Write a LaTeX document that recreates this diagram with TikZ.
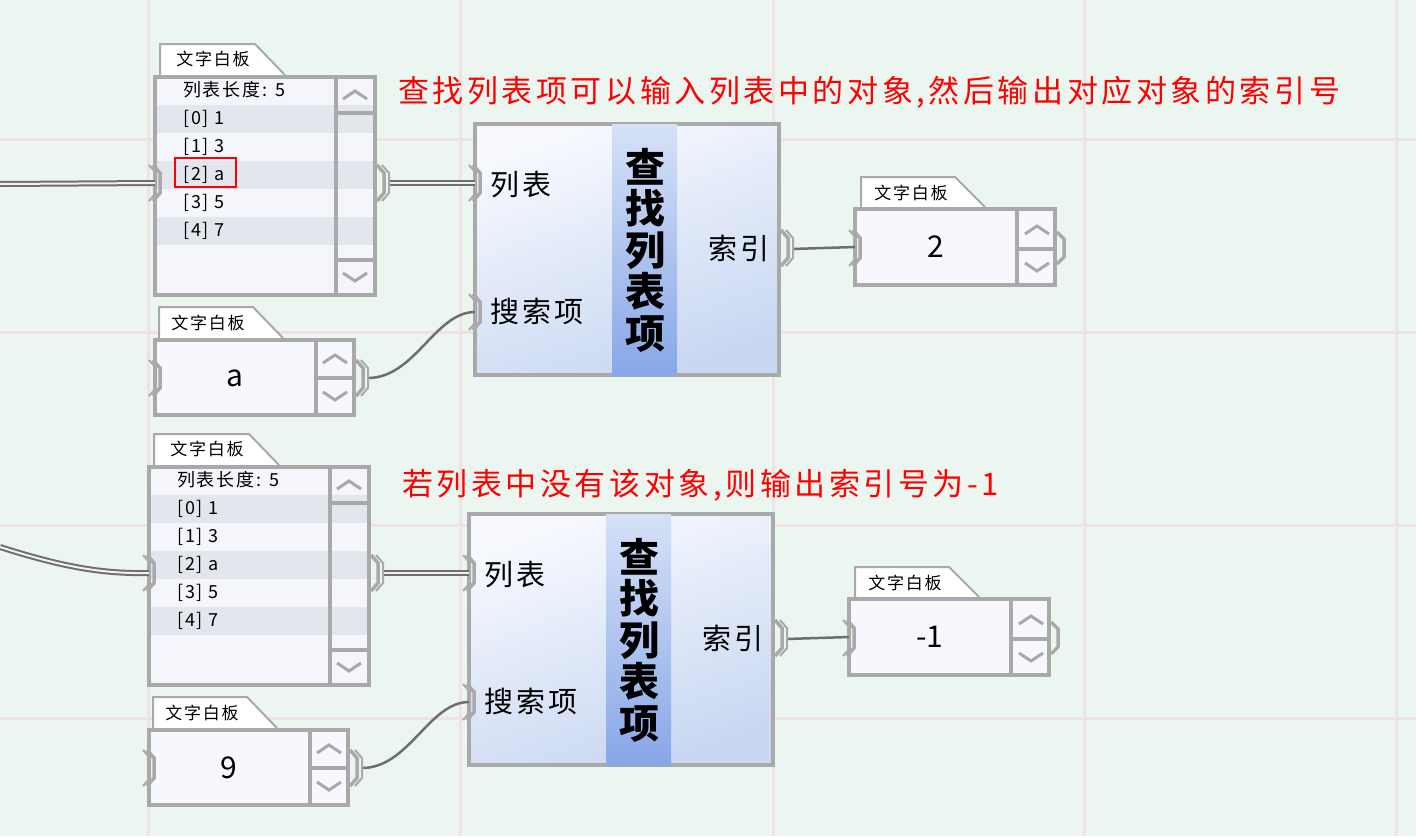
\documentclass[tikz,border=0pt]{standalone}
\usepackage{fontspec}
\newfontfamily\cjk{Noto Sans CJK SC}
\newfontfamily\cjksp{Noto Sans CJK SC}[LetterSpace=10]
\newfontfamily\cjknote{Noto Sans CJK SC}[LetterSpace=11.5]
\definecolor{bgc}{HTML}{EBF6F1}
\definecolor{gridc}{HTML}{EFE2E4}
\definecolor{framec}{HTML}{A9A9A9}
\definecolor{wirec}{HTML}{6E6E6E}
\definecolor{rowdark}{HTML}{E3E6EC}
\definecolor{rowlight}{HTML}{F5F6FB}
\definecolor{boxfill}{HTML}{F6F8FD}
\definecolor{blktop}{HTML}{F7F9FE}
\definecolor{blkbot}{HTML}{C8D7F2}
\definecolor{coltop}{HTML}{D6E1F7}
\definecolor{colbot}{HTML}{88A7E8}
\definecolor{redc}{HTML}{FF0000}
\tikzset{
  panel/.style={draw=framec, line width=4pt, inner sep=0pt, outer sep=0pt},
  tabshape/.style={draw=framec, line width=2pt, fill=white},
  sbline/.style={draw=framec, line width=4pt},
  chev/.style={draw=framec, line width=3pt},
  portthick/.style={draw=framec, line width=3.5pt},
  portthin/.style={draw=framec, line width=2pt},
  wire/.style={draw=wirec, line width=2.5pt},
  listwire/.style={draw=wirec, line width=2pt, double=white!88!gray, double distance=2pt},
  smalltxt/.style={inner sep=0pt, font=\cjksp\fontsize{17}{20}\selectfont},
  listtxt/.style={inner sep=0pt, anchor=west, font=\cjksp\fontsize{18}{20}\selectfont},
  lbl/.style={inner sep=0pt, font=\cjksp\fontsize{29}{32}\selectfont},
  valtxt/.style={inner sep=0pt, font=\cjk\fontsize{30}{32}\selectfont},
  titletxt/.style={inner sep=0pt, align=center, font=\cjk\bfseries\fontsize{40}{41.5}\selectfont},
  notetxt/.style={inner sep=0pt, anchor=west, text=redc, font=\cjknote\fontsize{31}{34}\selectfont},
}
% input port on a left border, bulging inward, thin bracket outside
\newcommand{\inport}[2]{%
  \draw[portthick] (#1,#2-18) -- (#1+7,#2-10) -- (#1+7,#2+10) -- (#1,#2+18);
  \draw[portthin] (#1-4,#2-18) -- (#1+3,#2-10) -- (#1+3,#2+10) -- (#1-4,#2+18);}
% output port on a right border, bulging outward, thin bracket outside
\newcommand{\outport}[2]{%
  \draw[portthick] (#1,#2-18) -- (#1+7,#2-10) -- (#1+7,#2+10) -- (#1,#2+18);
  \draw[portthin] (#1+5,#2-18) -- (#1+12,#2-10) -- (#1+12,#2+10) -- (#1+5,#2+18);}
\newcommand{\oneport}[2]{\draw[portthick] (#1,#2-16) -- (#1+7,#2-9) -- (#1+7,#2+9) -- (#1,#2+16);}
\newcommand{\chevup}[2]{\draw[chev] (#1-12,#2+4) -- (#1,#2-4) -- (#1+12,#2+4);}
\newcommand{\chevdown}[2]{\draw[chev] (#1-12,#2-4) -- (#1,#2+4) -- (#1+12,#2-4);}
\newcommand{\findgroup}[3]{%
  % ---- list panel
  \draw[tabshape] (160,75) -- (160,44) -- (255,44) -- (285,75);
  \node[smalltxt] (#1ltab) at (213,59) {文字白板};
  \node[panel, fill=rowlight, minimum width=220pt, minimum height=218pt] (#1list) at (265,186) {};
  \fill[rowdark] (157,105) rectangle (373,133);
  \fill[rowdark] (157,161) rectangle (373,189);
  \fill[rowdark] (157,217) rectangle (373,245);
  \draw[sbline] (336,77) -- (336,295);
  \draw[sbline] (336,113) -- (375,113);
  \draw[sbline] (336,260) -- (375,260);
  \chevup{355}{95}
  \chevdown{355}{277}
  \node[listtxt] (#1lhead) at (183,90) {列表长度: 5};
  \node[listtxt] (#1lr0) at (183,119) {[0] 1};
  \node[listtxt] (#1lr1) at (183,147) {[1] 3};
  \node[listtxt] (#1lr2) at (183,175) {[2] a};
  \node[listtxt] (#1lr3) at (183,203) {[3] 5};
  \node[listtxt] (#1lr4) at (183,231) {[4] 7};
  \coordinate (#1listin) at (155,183);
  \coordinate (#1listout) at (389,183);
  % ---- block
  \node[panel, top color=blktop, bottom color=blkbot, shading angle=20, minimum width=304pt, minimum height=251pt] (#1blk) at (627,249.5) {};
  \shade[top color=coltop, bottom color=colbot] (612,124) rectangle (677,375);
  \node[titletxt] (#1title) at (645,250) {查\\找\\列\\表\\项};
  \node[lbl, anchor=west] (#1lin1) at (490,185) {列表};
  \node[lbl, anchor=west] (#1lin2) at (490,311) {搜索项};
  \node[lbl, anchor=east] (#1lout) at (770,248) {索引};
  \coordinate (#1bin1) at (475,183);
  \coordinate (#1bin2) at (475,312);
  \coordinate (#1bout) at (792,249);
  % ---- output box
  \draw[tabshape] (861,207) -- (861,177) -- (955,177) -- (985,207);
  \node[smalltxt] (#1otab) at (911,193) {文字白板};
  \node[panel, fill=boxfill, minimum width=200pt, minimum height=76pt] (#1obox) at (955,247) {};
  \draw[sbline] (1017,209) -- (1017,285);
  \draw[sbline] (1017,249) -- (1055,249);
  \chevup{1037}{230}
  \chevdown{1037}{267}
  \node[valtxt] (#1oval) at (936,247) {#3};
  \coordinate (#1oin) at (855,247);
  % ---- search input box
  \draw[tabshape] (159,338) -- (159,307) -- (253,307) -- (283,338);
  \node[smalltxt] (#1itab) at (208,323) {文字白板};
  \node[panel, fill=boxfill, minimum width=199pt, minimum height=75pt] (#1ibox) at (254.5,377.5) {};
  \draw[sbline] (316,340) -- (316,415);
  \draw[sbline] (316,378) -- (354,378);
  \chevup{335}{359}
  \chevdown{335}{396}
  \node[valtxt] (#1ival) at (235,378) {#2};
  \coordinate (#1iout) at (368,378);
  % ---- wires
  \draw[listwire] (#1listout) -- (#1bin1);
  \draw[wire] (#1iout) .. controls (415,378) and (435,312) .. (#1bin2);
  \draw[wire] (#1bout) -- (#1oin);
  % ---- ports
  \inport{153}{183}
  \outport{377}{183}
  \inport{473}{183}
  \inport{473}{312}
  \outport{781}{248}
  \inport{853}{248}
  \oneport{1057}{248}
  \inport{153}{378}
  \outport{356}{378}
}
\begin{document}
\begin{tikzpicture}[x=1pt, y=-1pt]
\useasboundingbox (0,0) rectangle (1416,836);
\fill[bgc] (0,0) rectangle (1416,836);
\foreach \gx in {148,460,773,1084,1396} {\draw[gridc, line width=3pt] (\gx,0) -- (\gx,836);}
\foreach \gy in {139,332,525,718} {\draw[gridc, line width=3pt] (0,\gy) -- (1416,\gy);}
% incoming list wires
\coordinate (srcA) at (0,184);
\coordinate (srcB) at (0,547);
\findgroup{a}{a}{2}
\draw[listwire] (srcA) -- (alistin);
\node[draw=redc, line width=2pt, inner sep=0pt, minimum width=61pt, minimum height=29pt] (hl) at (205.5,172.5) {};
\node[notetxt] (noteA) at (398,92) {查找列表项可以输入列表中的对象,然后输出对应对象的索引号};
\begin{scope}[shift={(-6,390)}]
\findgroup{b}{9}{-1}
\end{scope}
\draw[listwire] (srcB) .. controls (60,566) and (100,574) .. (blistin);
\node[notetxt] (noteB) at (402,485) {若列表中没有该对象,则输出索引号为-1};
\end{tikzpicture}
\end{document}
